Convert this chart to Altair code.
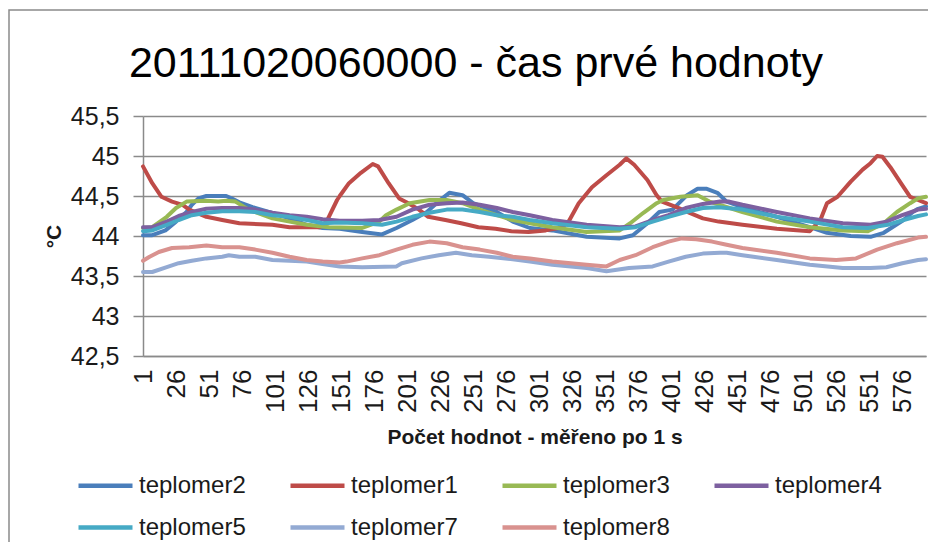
import altair as alt
import pandas as pd

# ---- data ----
series_names = ["teplomer2", "teplomer1", "teplomer3", "teplomer4",
                "teplomer5", "teplomer7", "teplomer8"]
series_colors = ["#4A7EBB", "#BE4B48", "#98B954", "#7D60A0",
                 "#46AAC5", "#93AAD3", "#D9928F"]

x_t2 = [1, 8, 18, 26, 34, 38, 43, 49, 64, 68, 74, 84, 99, 112, 125, 137, 150, 167, 182, 193,
        205, 216, 226, 233, 243, 251, 269, 281, 294, 311, 337, 362, 372, 383, 392, 402, 413,
        421, 428, 436, 443, 455, 481, 506, 519, 537, 552, 562, 577, 584, 588, 594]
y_t2 = [44.01, 44.01, 44.07, 44.18, 44.30, 44.39, 44.47, 44.50, 44.50, 44.47, 44.42, 44.36,
        44.29, 44.22, 44.14, 44.10, 44.09, 44.05, 44.02, 44.10, 44.20, 44.30, 44.45, 44.54,
        44.51, 44.41, 44.30, 44.18, 44.10, 44.07, 43.99, 43.97, 44.01, 44.16, 44.30, 44.33,
        44.51, 44.59, 44.59, 44.54, 44.43, 44.36, 44.24, 44.11, 44.04, 44.00, 43.99, 44.04,
        44.20, 44.30, 44.34, 44.37]

x_t1 = [1, 8, 15, 23, 31, 36, 49, 61, 74, 99, 112, 135, 140, 148, 150, 157, 166, 175, 179,
        187, 195, 202, 210, 217, 230, 242, 255, 268, 280, 293, 306, 319, 324, 331, 341, 352,
        362, 367, 373, 383, 390, 394, 405, 415, 425, 437, 455, 481, 506, 514, 519, 527, 537,
        546, 552, 557, 561, 567, 575, 582, 588, 594]
y_t1 = [44.87, 44.66, 44.49, 44.43, 44.39, 44.33, 44.24, 44.20, 44.16, 44.14, 44.11, 44.11,
        44.18, 44.45, 44.50, 44.66, 44.79, 44.90, 44.87, 44.66, 44.47, 44.41, 44.33, 44.24,
        44.20, 44.16, 44.11, 44.09, 44.06, 44.05, 44.07, 44.11, 44.20, 44.41, 44.61, 44.76,
        44.89, 44.97, 44.89, 44.70, 44.51, 44.43, 44.36, 44.29, 44.22, 44.18, 44.14, 44.09,
        44.06, 44.20, 44.41, 44.49, 44.68, 44.83, 44.91, 45.00, 44.99, 44.86, 44.66, 44.49,
        44.45, 44.41]

x_t3 = [1, 8, 19, 26, 34, 49, 58, 64, 71, 81, 99, 112, 125, 142, 167, 180, 185, 193, 203,
        218, 231, 243, 256, 269, 281, 294, 311, 337, 362, 370, 380, 390, 395, 408, 421, 430,
        455, 481, 506, 531, 550, 562, 572, 582, 588, 594]
y_t3 = [44.10, 44.11, 44.24, 44.35, 44.43, 44.44, 44.43, 44.44, 44.43, 44.33, 44.22, 44.18,
        44.14, 44.11, 44.10, 44.18, 44.26, 44.33, 44.41, 44.45, 44.45, 44.41, 44.33, 44.26,
        44.20, 44.16, 44.11, 44.05, 44.07, 44.16, 44.29, 44.41, 44.45, 44.49, 44.51, 44.43,
        44.30, 44.18, 44.11, 44.07, 44.06, 44.16, 44.30, 44.41, 44.47, 44.49]

x_t4 = [1, 8, 19, 28, 38, 49, 61, 74, 86, 99, 112, 125, 137, 150, 167, 180, 193, 205, 218,
        231, 243, 256, 269, 281, 294, 311, 337, 362, 374, 387, 399, 412, 425, 438, 445, 455,
        481, 506, 531, 552, 564, 576, 588, 594]
y_t4 = [44.11, 44.11, 44.18, 44.25, 44.30, 44.34, 44.35, 44.35, 44.33, 44.29, 44.26, 44.24,
        44.21, 44.19, 44.19, 44.20, 44.24, 44.33, 44.39, 44.41, 44.42, 44.39, 44.35, 44.30,
        44.26, 44.20, 44.14, 44.11, 44.12, 44.20, 44.26, 44.35, 44.40, 44.43, 44.43, 44.39,
        44.30, 44.22, 44.16, 44.14, 44.18, 44.26, 44.33, 44.34]

x_t5 = [1, 8, 19, 28, 38, 49, 61, 74, 86, 99, 112, 125, 137, 150, 167, 182, 193, 205, 218,
        231, 243, 256, 269, 281, 294, 311, 337, 362, 374, 387, 399, 412, 425, 437, 455, 481,
        506, 531, 550, 565, 577, 588, 594]
y_t5 = [44.06, 44.07, 44.14, 44.20, 44.26, 44.29, 44.31, 44.31, 44.30, 44.26, 44.24, 44.20,
        44.16, 44.17, 44.16, 44.14, 44.18, 44.24, 44.29, 44.33, 44.33, 44.30, 44.26, 44.24,
        44.20, 44.16, 44.11, 44.09, 44.11, 44.18, 44.24, 44.30, 44.35, 44.36, 44.33, 44.24,
        44.18, 44.11, 44.10, 44.14, 44.20, 44.25, 44.27]

x_t7 = [1, 8, 19, 28, 38, 49, 61, 66, 74, 86, 99, 112, 125, 137, 150, 167, 193, 197, 212,
        225, 238, 250, 263, 281, 294, 311, 337, 352, 369, 387, 399, 412, 425, 438, 443, 455,
        481, 506, 531, 552, 564, 576, 588, 594]
y_t7 = [43.55, 43.55, 43.61, 43.66, 43.69, 43.72, 43.74, 43.76, 43.74, 43.74, 43.70, 43.69,
        43.68, 43.65, 43.62, 43.61, 43.62, 43.66, 43.72, 43.76, 43.79, 43.76, 43.74, 43.71,
        43.68, 43.64, 43.60, 43.56, 43.60, 43.62, 43.68, 43.74, 43.78, 43.79, 43.79, 43.76,
        43.70, 43.64, 43.60, 43.60, 43.61, 43.66, 43.70, 43.71]

x_t8 = [1, 6, 13, 23, 36, 49, 61, 74, 86, 99, 112, 125, 137, 150, 155, 167, 180, 193, 205,
        218, 231, 243, 256, 269, 281, 294, 311, 337, 352, 362, 374, 387, 399, 409, 420, 432,
        443, 455, 481, 506, 526, 541, 557, 572, 588, 594]
y_t8 = [43.69, 43.74, 43.80, 43.85, 43.86, 43.88, 43.86, 43.86, 43.83, 43.79, 43.74, 43.70,
        43.68, 43.67, 43.68, 43.72, 43.76, 43.83, 43.89, 43.93, 43.91, 43.86, 43.83, 43.79,
        43.74, 43.72, 43.68, 43.64, 43.62, 43.70, 43.76, 43.86, 43.93, 43.97, 43.96, 43.93,
        43.89, 43.85, 43.79, 43.72, 43.70, 43.72, 43.83, 43.91, 43.98, 43.99]

x_ticks = [1, 26, 51, 76, 101, 126, 151, 176, 201, 226, 251, 276, 301, 326, 351, 376, 401,
           426, 451, 476, 501, 526, 551, 576]
y_ticks = [42.5, 43.0, 43.5, 44.0, 44.5, 45.0, 45.5]

title_text = "20111020060000 - čas prvé hodnoty"
x_title = "Počet hodnot - měřeno po 1 s"
y_title = "°C"

series_data = [(series_names[0], x_t2, y_t2), (series_names[1], x_t1, y_t1),
               (series_names[2], x_t3, y_t3), (series_names[3], x_t4, y_t4),
               (series_names[4], x_t5, y_t5), (series_names[5], x_t7, y_t7),
               (series_names[6], x_t8, y_t8)]

FONT = "Liberation Sans"
GRAY = "#8A8A8A"

x_enc = alt.X("n:Q",
              scale=alt.Scale(domain=[1, 594], nice=False, zero=False),
              axis=alt.Axis(values=x_ticks, labelAngle=270, labelFontSize=26, labelFont=FONT,
                            labelColor="#1a1a1a", grid=False, ticks=False, labelPadding=13,
                            domainColor=GRAY, domainWidth=1.5, labelOverlap=False,
                            title=x_title, titleFont=FONT, titleFontSize=21,
                            titleFontWeight="bold", titleColor="#1a1a1a", titlePadding=14))
y_enc = alt.Y("t:Q",
              scale=alt.Scale(domain=[42.5, 45.5], nice=False, zero=False),
              axis=alt.Axis(values=y_ticks,
                            labelExpr="replace(format(datum.value, '.1~f'), '.', ',')",
                            labelFontSize=25, labelFont=FONT, labelColor="#1a1a1a",
                            tickSize=10, tickColor=GRAY, tickWidth=1.5,
                            domainColor=GRAY, domainWidth=1.5,
                            gridColor=GRAY, gridWidth=1.5, labelPadding=14,
                            title=y_title, titleFont=FONT, titleFontSize=21,
                            titleFontWeight="bold", titleColor="#1a1a1a", titlePadding=6))
color_enc = alt.Color("series:N",
                      scale=alt.Scale(domain=series_names, range=series_colors),
                      legend=alt.Legend(title=None, orient="none", legendX=-67, legendY=340,
                                        direction="horizontal", columns=4,
                                        symbolType="stroke", symbolSize=2916,
                                        symbolStrokeWidth=4.5, labelFontSize=24,
                                        labelFont=FONT, labelColor="#1a1a1a",
                                        columnPadding=35, rowPadding=-9, labelOffset=4,
                                        gridAlign="all"))

one_row = pd.DataFrame({"k": [0]})

frame = alt.Chart(one_row).mark_rect(
    fillOpacity=0, stroke=GRAY, strokeWidth=1.5
).encode(x=alt.value(-134), x2=alt.value(795), y=alt.value(-106), y2=alt.value(470))

title_mark = alt.Chart(one_row).mark_text(
    text=title_text, font=FONT, fontSize=43, color="#000000",
    align="center", baseline="alphabetic"
).encode(x=alt.value(333), y=alt.value(-39))

layers = [frame, title_mark]
for name, xs, ys in series_data:
    df = pd.DataFrame({"n": xs, "t": ys, "series": [name] * len(xs)})
    layers.append(
        alt.Chart(df).mark_line(strokeWidth=4, strokeJoin="round", strokeCap="round")
        .encode(x=x_enc, y=y_enc, color=color_enc)
    )

chart = alt.layer(*layers).properties(
    width=783, height=240,
    autosize=alt.AutoSizeParams(type="none"),
    padding={"left": 135, "top": 108, "right": 2, "bottom": 186},
    background="white",
).configure_view(stroke=None)

chart.save("out.html", embed_options={"renderer": "svg", "actions": False})
